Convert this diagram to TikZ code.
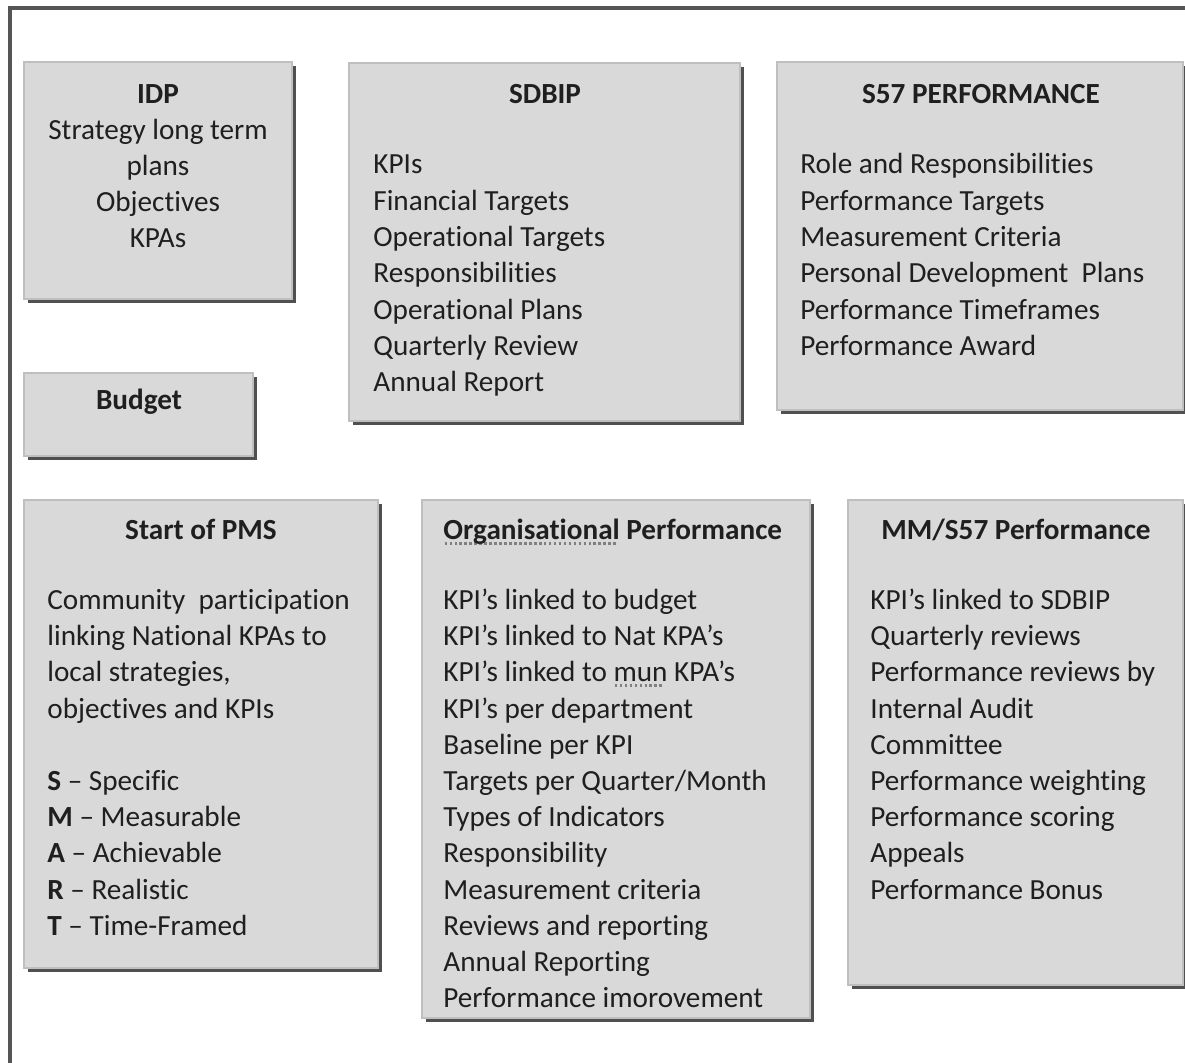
\documentclass[tikz,border=0pt]{standalone}
\usepackage{fontspec}
\setmainfont{Carlito}[Ligatures=CommonOff]
\usepackage{tikz}
\usetikzlibrary{fit,shadows}
\definecolor{cardfill}{HTML}{D9D9D9}
\definecolor{cardline}{HTML}{BFBFBF}
\definecolor{shade}{HTML}{505050}
\definecolor{framegray}{HTML}{555555}
\definecolor{ink}{HTML}{1F1F1F}
\definecolor{markgray}{HTML}{808080}
% dotted proofing mark under a word
\newsavebox\spellbox
\newcommand\spellmark[1]{\sbox\spellbox{#1}\leavevmode
  \rlap{\raisebox{-0.36ex}{\textcolor{markgray}{\hbox to\wd\spellbox{%
    \leaders\hbox to 0.17em{\hss\rule{0.09em}{0.09em}\hss}\hfill}}}}\usebox\spellbox}
\tikzset{
  card/.style={draw=cardline,fill=cardfill,line width=0.8pt,inner sep=0pt,
    general shadow={fill=shade,shadow xshift=1.8pt,shadow yshift=-2pt}},
  head/.style={font=\fontsize{14.6}{18}\selectfont\bfseries,text=ink,inner sep=0pt,anchor=base},
  item/.style={font=\fontsize{14.6}{18}\selectfont,text=ink,inner sep=0pt,anchor=base west}
}

\begin{document}
\begin{tikzpicture}[x=0.5pt,y=-0.5pt]
\useasboundingbox (0,0) rectangle (1185,1063);
\clip (0,0) rectangle (1185,1063);
\fill[white] (0,0) rectangle (1185,1063);
\draw[framegray,line width=2.2pt] (10,1075) -- (10,8) -- (1195,8);

% boxes
\node[card,fit={(24,62) (292,299)}] (idp) {};
\node[card,fit={(349,63) (740,421)}] (sdbip) {};
\node[card,fit={(777,62) (1183,410)}] (sper) {};
\node[card,fit={(24,373) (253,456)}] (budget) {};
\node[card,fit={(24,500) (378,968)}] (pms) {};
\node[card,fit={(422,500) (810,1018)}] (orgp) {};
\node[card,fit={(848,500) (1183,985)}] (mmp) {};

% headings
\node[head] (idp-t) at (158,104) {IDP};
\node[head] (sdbip-t) at (545,104) {SDBIP};
\node[head] (sper-t) at (981,104) {S57 PERFORMANCE};
\node[head] (budget-t) at (139,410) {Budget};
\node[head] (pms-t) at (201,540) {Start of PMS};
\node[head,anchor=base west] (orgp-t) at (443,540) {\spellmark{Organisational} Performance};
\node[head] (mmp-t) at (1016,540) {MM/S57 Performance};

% top row lists
\foreach \entry [count=\i from 0] in {Strategy long term,plans,Objectives,KPAs}
  \node[item,anchor=base] (idp-\i) at (158,140+36*\i) {\entry};
\foreach \entry [count=\i from 0] in {KPIs,Financial Targets,Operational Targets,
    Responsibilities,Operational Plans,Quarterly Review,Annual Report}
  \node[item] (sdbip-\i) at (373,174+36.3*\i) {\entry};
\foreach \entry [count=\i from 0] in {Role and Responsibilities,Performance Targets,
    Measurement Criteria,Personal Development\ \ Plans,Performance Timeframes,Performance Award}
  \node[item] (sper-\i) at (800,174+36.3*\i) {\entry};

% bottom row lists
\foreach \entry [count=\i from 0] in {Community\ \ participation,linking National KPAs to,
    {local strategies,},objectives and KPIs}
  \node[item] (pms-\i) at (47,609.5+36.2*\i) {\entry};
\foreach \k/\w [count=\i from 5] in {S/Specific,M/Measurable,A/Achievable,R/Realistic,T/Time-Framed}
  \node[item] (pms-\i) at (47,609.5+36.2*\i) {\textbf{\k} – \w};
\foreach \entry [count=\i from 0] in {KPI’s linked to budget,KPI’s linked to Nat KPA’s,
    KPI’s linked to \spellmark{mun} KPA’s,KPI’s per department,Baseline per KPI,
    Targets per Quarter/Month,Types of Indicators,Responsibility,Measurement criteria,
    Reviews and reporting,Annual Reporting,Performance imorovement}
  \node[item] (orgp-\i) at (443,609.5+36.2*\i) {\entry};
\foreach \entry [count=\i from 0] in {KPI’s linked to SDBIP,Quarterly reviews,
    Performance reviews by,Internal Audit,Committee,Performance weighting,
    Performance scoring,Appeals,Performance Bonus}
  \node[item] (mmp-\i) at (870,609.5+36.2*\i) {\entry};
\end{tikzpicture}
\end{document}
